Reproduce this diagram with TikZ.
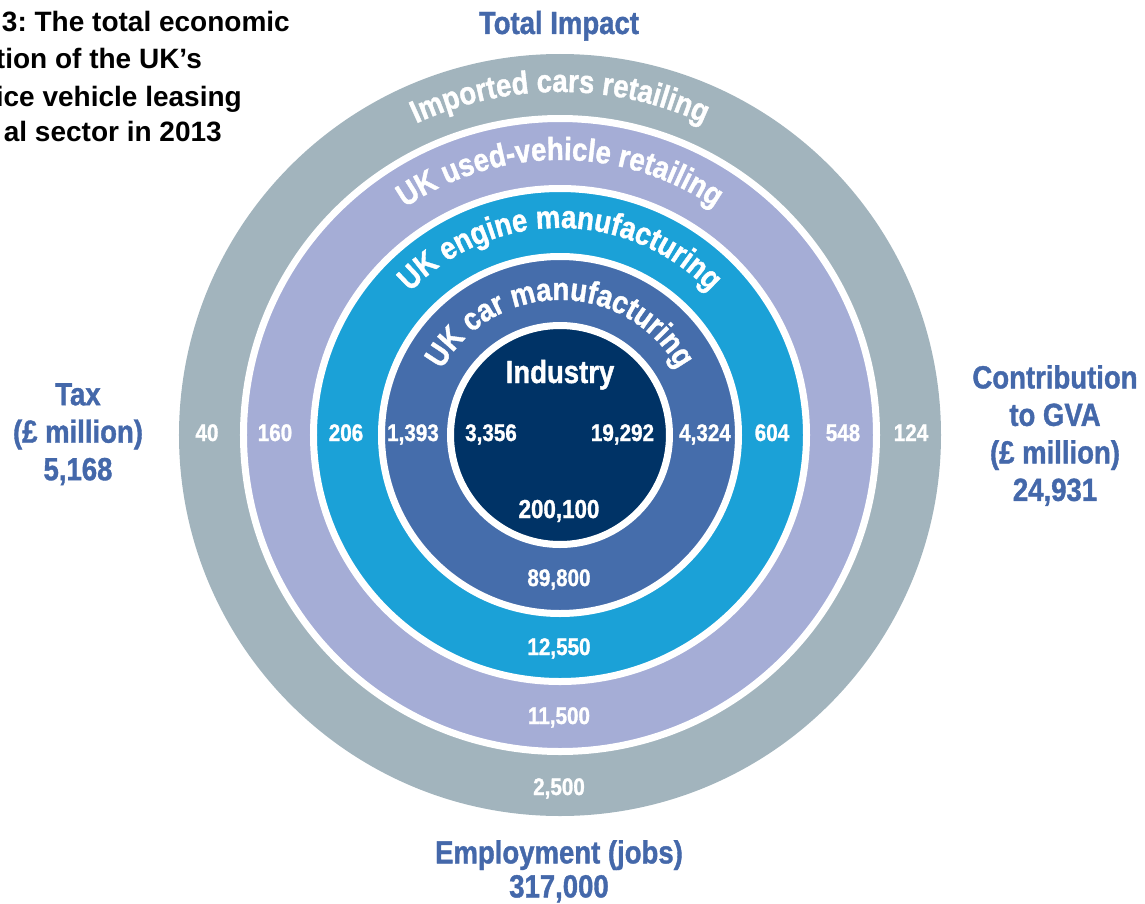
\documentclass[tikz,border=0pt]{standalone}
\usepackage{fontspec}
\setmainfont{Liberation Sans}
\newfontfamily\condfont{Liberation Sans}[FakeStretch=0.86, BoldFeatures={FakeBold=1.2}]
\frenchspacing
\usepackage{xcolor}
\definecolor{ringgray}{RGB}{162,180,189}
\definecolor{ringlavender}{RGB}{165,173,214}
\definecolor{ringcyan}{RGB}{27,161,215}
\definecolor{ringblue}{RGB}{69,109,171}
\definecolor{ringnavy}{RGB}{0,51,102}
\definecolor{headblue}{RGB}{68,104,170}
\usepackage{tikz}
\usetikzlibrary{decorations.text}
\newcommand{\headfont}{\condfont\bfseries\fontsize{32}{37.5}\selectfont}
\newcommand{\numfont}{\condfont\bfseries\fontsize{24}{24}\selectfont}
\newcommand{\captionfont}{\bfseries\fontsize{28}{36.7}\selectfont}
\newcommand{\widthgap}{7pt}
\newcommand{\radiusgray}{381}
\newcommand{\radiuslavender}{316.5}
\newcommand{\radiuscyan}{246.5}
\newcommand{\radiusblue}{178.5}
\newcommand{\radiusnavy}{109.5}
\tikzset{
    ring/.style={draw=white, line width=\widthgap},
    head/.style={font=\headfont, text=headblue, align=center, inner sep=0pt, anchor=north},
    caption/.style={font=\captionfont, text=black, inner sep=0pt, anchor=base east},
    num/.style={font=\numfont, text=white, inner sep=0pt, anchor=base},
    bignum/.style={num, font=\condfont\bfseries\fontsize{26}{26}\selectfont},
    ringlabel/.style={decorate, decoration={text along path, text align=center,
        text color=white, text={|\headfont|#1}}}
}

\begin{document}
\begin{tikzpicture}[x=1pt, y=1pt]
    \useasboundingbox (-560,-468) rectangle (585,435);

    \fill[ringgray] (0,0) circle (\radiusgray);
    \draw[ring, fill=ringlavender] (0,0) circle (\radiuslavender);
    \draw[ring, fill=ringcyan] (0,0) circle (\radiuscyan);
    \draw[ring, fill=ringblue] (0,0) circle (\radiusblue);
    \draw[ring, fill=ringnavy] (0,0) circle (\radiusnavy);

    \path[ringlabel={Imported cars retailing}] (170:343) arc[start angle=170, end angle=10, radius=343];
    \path[ringlabel={UK used-vehicle retailing}] (170:275) arc[start angle=170, end angle=10, radius=275];
    \path[ringlabel={UK engine manufacturing}] (170:207) arc[start angle=170, end angle=10, radius=207];
    \path[ringlabel={UK car manufacturing}] (170:135) arc[start angle=170, end angle=10, radius=135];

    \node[caption] (caption-1) at (-270,403.3) {3: The total economic};
    \node[caption] (caption-2) at (-358,366.7) {tion of the UK’s};
    \node[caption] (caption-3) at (-318,328.3) {ice vehicle leasing};
    \node[caption] (caption-4) at (-338,293.3) {al sector in 2013};

    \node[head, anchor=base] (total) at (-1,401) {Total Impact};
    \node[head] (tax) at (-482,52) {Tax\\(£ million)\\5,168};
    \node[head] (gva) at (495,70) {Contribution\\to GVA\\(£ million)\\24,931};
    \node[head, font=\condfont\bfseries\fontsize{32}{34}\selectfont] (jobs) at (-1,-405) {Employment (jobs)\\317,000};

    \node[head, text=white, anchor=base] (industry) at (0,52) {Industry};

    \node[num] (tax-imported) at (-353,-6) {40};
    \node[num] (tax-used) at (-285,-6) {160};
    \node[num] (tax-engine) at (-214,-6) {206};
    \node[num] (tax-car) at (-147,-6) {1,393};
    \node[num] (tax-industry) at (-69,-6) {3,356};
    \node[num] (gva-industry) at (62.5,-6) {19,292};
    \node[num] (gva-car) at (145,-6) {4,324};
    \node[num] (gva-engine) at (212,-6) {604};
    \node[num] (gva-used) at (283,-6) {548};
    \node[num] (gva-imported) at (351,-6) {124};

    \node[bignum] (jobs-industry) at (-1,-83) {200,100};
    \node[num] (jobs-car) at (-1,-151) {89,800};
    \node[num] (jobs-engine) at (-1,-220) {12,550};
    \node[num] (jobs-used) at (-1,-289) {11,500};
    \node[num] (jobs-imported) at (-1,-360) {2,500};
\end{tikzpicture}
\end{document}
